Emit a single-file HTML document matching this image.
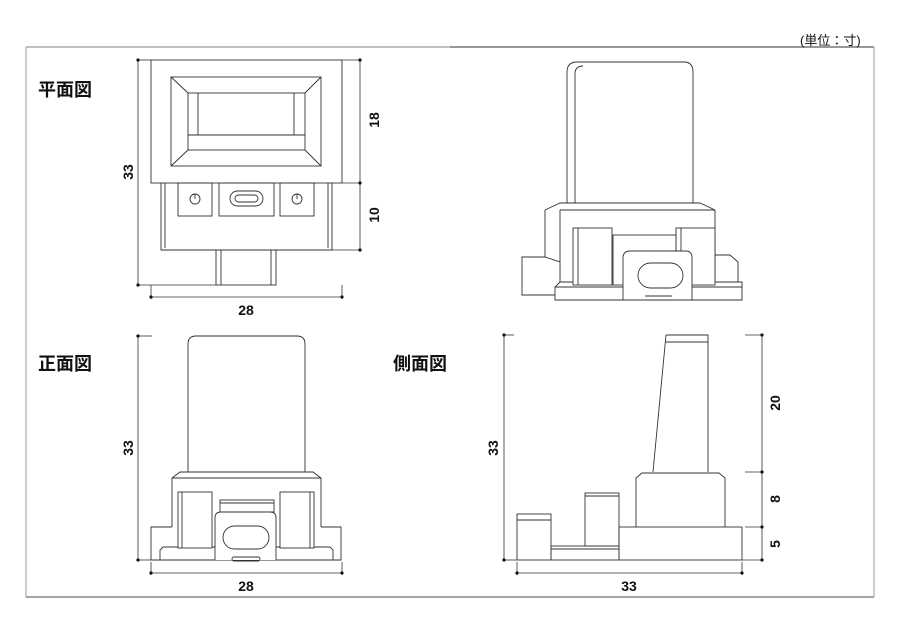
<!DOCTYPE html>
<html><head><meta charset="utf-8"><style>
html,body{margin:0;padding:0;background:#fff}
svg{display:block}
text{font-family:"Liberation Sans","Noto Sans CJK JP",sans-serif;fill:#111}
.t{font-weight:bold;font-size:18px}
.d{font-weight:bold;font-size:14px}
</style></head><body>
<svg width="900" height="636" viewBox="0 0 900 636" xmlns="http://www.w3.org/2000/svg">
<g fill="none" stroke="#999" stroke-width="1">
<line x1="26" y1="47" x2="450" y2="47" stroke="#aaa" stroke-width="1.5"/>
<line x1="450" y1="47" x2="874" y2="47" stroke="#777" stroke-width="1.5"/>
<line x1="26" y1="47" x2="26" y2="597"/>
<line x1="874" y1="47" x2="874" y2="597"/>
<line x1="26" y1="597" x2="874" y2="597" stroke="#888" stroke-width="1.5"/>
</g>
<text x="800" y="45" font-size="13">(単位：寸)</text>
<text class="t" x="38" y="96">平面図</text>
<text class="t" x="38" y="370">正面図</text>
<text class="t" x="393" y="370">側面図</text>

<g fill="none" stroke="#333" stroke-width="0.9">
<!-- plan view -->
<rect x="151" y="60" width="191" height="123"/>
<rect x="171" y="77" width="150" height="89"/>
<rect x="188" y="93" width="117" height="57"/>
<line x1="171" y1="77" x2="188" y2="93"/><line x1="321" y1="77" x2="305" y2="93"/>
<line x1="171" y1="166" x2="188" y2="150"/><line x1="321" y1="166" x2="305" y2="150"/>
<line x1="198" y1="93" x2="198" y2="135"/><line x1="294" y1="93" x2="294" y2="135"/>
<line x1="188" y1="135" x2="305" y2="135"/>
<path d="M161 183V250H332V183"/>
<line x1="165" y1="183" x2="165" y2="248"/><line x1="328" y1="183" x2="328" y2="248"/>
<rect x="178" y="183" width="34" height="33"/>
<rect x="219" y="183" width="55" height="33"/>
<rect x="280" y="183" width="34" height="33"/>
<circle cx="195" cy="199" r="5"/><line x1="195" y1="194" x2="195" y2="199"/>
<circle cx="297" cy="199" r="5"/><line x1="297" y1="194" x2="297" y2="199"/>
<rect x="230" y="191" width="33" height="15" rx="7.5"/>
<rect x="235" y="195" width="23" height="7" rx="3.5"/>
<rect x="216" y="250" width="60" height="35"/>
<line x1="221" y1="250" x2="221" y2="285"/><line x1="271" y1="250" x2="271" y2="285"/>

<!-- iso view -->
<path d="M567 203V72Q567 62 577 62H684Q693 62 693 72V203"/>
<path d="M575 203V74Q575 66 583 66"/>
<path d="M545 280V210L560 203H700L715 210V280"/>
<line x1="560" y1="210" x2="715" y2="210"/><line x1="560" y1="210" x2="560" y2="280"/>
<path d="M522 295V257H545L560 262V295Z" fill="#fff"/>
<line x1="522" y1="257" x2="545" y2="257"/>
<path d="M715 255H730L738 262V285H715Z" fill="#fff"/>
<path d="M555 300V287L560 282H742V300Z" fill="#fff"/>
<line x1="555" y1="287" x2="742" y2="287"/>
<rect x="573" y="228" width="39" height="57" fill="#fff"/><line x1="578" y1="228" x2="578" y2="285"/>
<rect x="676" y="228" width="39" height="57" fill="#fff"/><line x1="681" y1="228" x2="681" y2="285"/>
<rect x="613" y="235" width="63" height="50" fill="#fff"/>
<path d="M623 300V258Q623 251 630 251H686Q692 251 692 258V300Z" fill="#fff"/>
<rect x="638" y="263" width="45" height="25" rx="12.5"/>
<line x1="645" y1="296" x2="672" y2="296"/>

<!-- front view -->
<path d="M188 472V344Q188 336 196 336H297Q305 336 305 344V472"/>
<path d="M172 527V478L180 472H313L321 478V527"/>
<line x1="172" y1="478" x2="321" y2="478"/>
<path d="M151 560V527H172M321 527H341V560H151"/>
<path d="M160 560V550L163 547H330L333 550V560"/>
<rect x="178" y="492" width="34" height="56" fill="#fff"/><line x1="182" y1="492" x2="182" y2="548"/>
<rect x="280" y="492" width="34" height="56" fill="#fff"/><line x1="310" y1="492" x2="310" y2="548"/>
<rect x="220" y="500" width="54" height="12"/><line x1="220" y1="503" x2="274" y2="503"/>
<path d="M215 560V518Q215 512 221 512H270Q276 512 276 518V560" fill="#fff"/>
<rect x="223" y="526" width="46" height="23" rx="11.5"/>
<rect x="232" y="557" width="28" height="4" rx="2"/>

<!-- side view -->
<path d="M666 335H708V472M666 335L653 472"/>
<line x1="666" y1="342" x2="708" y2="342"/>
<path d="M636 527V478L642 473H719L725 478V527"/>
<line x1="642" y1="473" x2="719" y2="473"/>
<rect x="619" y="527" width="123" height="33"/>
<rect x="551" y="546" width="68" height="14"/><line x1="551" y1="549" x2="619" y2="549"/>
<rect x="585" y="493" width="34" height="53"/><line x1="585" y1="496" x2="619" y2="496"/>
<rect x="517" y="514" width="34" height="46"/><line x1="517" y1="520" x2="551" y2="520"/>
</g>

<g stroke="#333" stroke-width="0.8" fill="none">
<line x1="138" y1="60" x2="138" y2="285"/><line x1="138" y1="60" x2="151" y2="60"/><line x1="138" y1="285" x2="216" y2="285"/>
<line x1="151" y1="297" x2="342" y2="297"/><line x1="151" y1="285" x2="151" y2="299"/><line x1="342" y1="285" x2="342" y2="299"/>
<line x1="360" y1="60" x2="360" y2="250"/><line x1="342" y1="60" x2="360" y2="60"/><line x1="342" y1="183" x2="360" y2="183"/><line x1="332" y1="250" x2="360" y2="250"/>
<line x1="138" y1="336" x2="138" y2="560"/><line x1="138" y1="336" x2="152" y2="336"/><line x1="138" y1="560" x2="151" y2="560"/>
<line x1="151" y1="573" x2="342" y2="573"/><line x1="151" y1="562" x2="151" y2="575"/><line x1="342" y1="562" x2="342" y2="575"/>
<line x1="504" y1="335" x2="504" y2="560"/><line x1="504" y1="335" x2="514" y2="335"/><line x1="504" y1="560" x2="517" y2="560"/>
<line x1="517" y1="573" x2="742" y2="573"/><line x1="517" y1="562" x2="517" y2="575"/><line x1="742" y1="562" x2="742" y2="575"/>
<line x1="762" y1="335" x2="762" y2="560"/><line x1="745" y1="335" x2="762" y2="335"/><line x1="745" y1="472" x2="762" y2="472"/><line x1="745" y1="527" x2="762" y2="527"/><line x1="742" y1="560" x2="762" y2="560"/>
</g>
<g fill="#111">
<circle cx="138" cy="60" r="1.6"/><circle cx="138" cy="285" r="1.6"/><circle cx="151" cy="297" r="1.6"/><circle cx="342" cy="297" r="1.6"/>
<circle cx="360" cy="60" r="1.6"/><circle cx="360" cy="183" r="1.6"/><circle cx="360" cy="250" r="1.6"/>
<circle cx="138" cy="336" r="1.6"/><circle cx="138" cy="560" r="1.6"/><circle cx="151" cy="573" r="1.6"/><circle cx="342" cy="573" r="1.6"/>
<circle cx="504" cy="335" r="1.6"/><circle cx="504" cy="560" r="1.6"/><circle cx="517" cy="573" r="1.6"/><circle cx="742" cy="573" r="1.6"/>
<circle cx="762" cy="335" r="1.6"/><circle cx="762" cy="472" r="1.6"/><circle cx="762" cy="527" r="1.6"/><circle cx="762" cy="560" r="1.6"/>
</g>
<text class="d" x="246" y="315" text-anchor="middle">28</text>
<text class="d" x="246" y="591" text-anchor="middle">28</text>
<text class="d" x="629" y="591" text-anchor="middle">33</text>
<text class="d" transform="translate(133,172) rotate(-90)" text-anchor="middle">33</text>
<text class="d" transform="translate(133,448) rotate(-90)" text-anchor="middle">33</text>
<text class="d" transform="translate(498,448) rotate(-90)" text-anchor="middle">33</text>
<text class="d" transform="translate(379,120) rotate(-90)" text-anchor="middle">18</text>
<text class="d" transform="translate(379,215) rotate(-90)" text-anchor="middle">10</text>
<text class="d" transform="translate(780,403) rotate(-90)" text-anchor="middle">20</text>
<text class="d" transform="translate(780,499) rotate(-90)" text-anchor="middle">8</text>
<text class="d" transform="translate(780,544) rotate(-90)" text-anchor="middle">5</text>
</svg>
</body></html>
